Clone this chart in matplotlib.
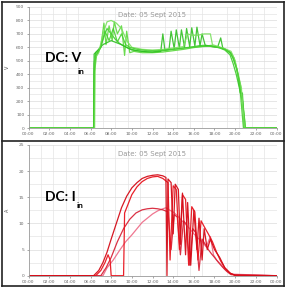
import matplotlib
matplotlib.use("Agg")
import matplotlib.pyplot as plt
from matplotlib.lines import Line2D
import numpy as np

# ---------------- data ----------------
x_ticks = [0, 2, 4, 6, 8, 10, 12, 14, 16, 18, 20, 22, 24]
x_tick_labels = ["00:00", "02:00", "04:00", "06:00", "08:00", "10:00", "12:00",
                 "14:00", "16:00", "18:00", "20:00", "22:00", "00:00"]
v_ticks = [0, 100, 200, 300, 400, 500, 600, 700, 800, 900]
i_ticks = [0, 5, 10, 15, 20, 25]
date_label = "Date: 05 Sept 2015"

# Voltage series (hours, volts)
g1_t = [0, 6.3, 6.35, 6.5, 6.8, 7.0, 7.3, 7.6, 8.0, 8.4, 8.8, 9.2, 9.6, 10.0, 10.5, 11.0,
        11.5, 12.0, 12.5, 13.0, 13.5, 14.0, 14.5, 15.0, 15.5, 16.0, 16.5, 17.0, 17.5, 18.0,
        18.5, 19.0, 19.5, 19.8, 20.1, 20.4, 20.7, 20.85, 21.0, 24]
g1_v = [0, 0, 480, 560, 580, 610, 680, 740, 700, 660, 630, 610, 595, 585, 575, 570,
        565, 565, 570, 575, 580, 585, 590, 595, 600, 605, 612, 615, 612, 605,
        595, 580, 545, 480, 400, 300, 200, 100, 0, 0]
g2_t = [0, 6.35, 6.4, 6.6, 7.0, 7.3, 7.5, 7.8, 8.1, 8.3, 8.6, 9.0, 9.3, 9.5, 9.8, 10.2,
        11.0, 12.0, 13.0, 14.0, 15.0, 16.0, 17.0, 17.7, 18.5, 19.0, 19.6, 19.9, 20.2, 20.5,
        20.8, 21.0, 24]
g2_v = [0, 0, 420, 550, 600, 780, 620, 760, 650, 790, 700, 760, 540, 720, 560, 570,
        560, 560, 565, 575, 585, 598, 608, 615, 600, 585, 560, 520, 430, 330,
        150, 0, 0]
g3_t = [0, 6.3, 6.35, 6.6, 7.2, 8.0, 9.0, 10.0, 11.0, 12.0, 12.8, 13.0, 13.2, 13.6, 13.8,
        14.1, 14.3, 14.6, 14.8, 15.1, 15.3, 15.6, 15.8, 16.1, 16.3, 16.6, 16.8, 17.1, 17.4,
        17.8, 18.3, 18.6, 18.8, 19.2, 19.6, 19.9, 20.2, 20.5, 20.7, 20.9, 24]
g3_v = [0, 0, 550, 570, 620, 650, 620, 580, 570, 565, 570, 700, 580, 585, 720, 590,
        730, 595, 730, 600, 740, 605, 745, 610, 750, 612, 700, 615, 612,
        605, 600, 670, 595, 580, 555, 500, 430, 260, 260, 0, 0]
g4_t = [0, 6.4, 6.45, 6.8, 7.2, 7.6, 8.0, 8.5, 9.0, 9.5, 10.0, 11.0, 12.0, 13.0, 14.0,
        15.0, 15.4, 15.8, 16.4, 17.0, 17.6, 17.8, 18.2, 19.0, 19.6, 20.0, 20.3, 20.6,
        20.9, 24]
g4_v = [0, 0, 520, 560, 700, 790, 800, 780, 740, 650, 600, 585, 580, 585, 595,
        605, 700, 690, 690, 700, 700, 620, 610, 590, 570, 500, 380, 300,
        0, 0]
g5_t = [0, 6.3, 6.35, 6.5, 6.7, 7.0, 7.4, 7.8, 8.2, 8.6, 9.0, 9.4, 9.8, 10.5, 11.5,
        12.5, 13.5, 14.5, 15.5, 16.5, 17.5, 18.5, 19.0, 19.5, 19.8, 20.1, 20.4, 20.8,
        24]
g5_v = [0, 0, 400, 540, 560, 600, 720, 650, 740, 640, 700, 620, 600, 585, 575,
        575, 582, 590, 598, 605, 608, 598, 585, 560, 520, 450, 350, 0,
        0]

# Current series (hours, amps)
r1_t = [0, 6.3, 6.8, 7.2, 7.6, 8.0, 8.5, 9.0, 9.5, 10.0, 10.5, 11.0, 11.5, 12.0, 12.5,
        13.0, 13.3, 13.4, 13.5, 13.8, 14.0, 14.2, 14.5, 14.7, 14.9, 15.2, 15.4, 15.7,
        16.0, 16.3, 16.5, 16.8, 17.0, 17.3, 17.6, 18.0, 18.5, 19.0, 19.5, 20.0, 24]
r1_v = [0, 0, 1.0, 2.5, 4.5, 7.0, 10.0, 13.0, 15.2, 16.8, 17.8, 18.6, 19.0, 19.2, 19.3,
        19.1, 18.8, 0, 18.5, 17.8, 8.0, 17.5, 16.5, 6.0, 15.8, 4.0, 14.0, 2.0,
        12.5, 5.0, 11.0, 3.0, 9.0, 5.0, 7.0, 5.0, 3.5, 1.5, 0.5, 0.1, 0]
r2_t = [0, 6.5, 7.0, 7.4, 7.7, 7.9, 8.0, 9.2, 9.3, 9.6, 10.0, 10.5, 11.0, 11.5, 12.0,
        12.5, 13.0, 13.5, 13.7, 14.0, 14.3, 14.6, 14.9, 15.2, 15.5, 15.8, 16.1, 16.4,
        16.7, 17.0, 17.4, 17.8, 18.2, 18.6, 19.0, 19.5, 20.0, 24]
r2_v = [0, 0, 1.0, 2.5, 4.0, 3.0, 0, 0, 12.0, 13.5, 15.5, 17.0, 18.0, 18.6, 18.9,
        19.0, 18.6, 17.8, 3.0, 17.2, 16.5, 5.0, 15.5, 14.6, 2.0, 13.2, 12.2, 3.0,
        10.5, 9.4, 8.0, 6.5, 4.5, 2.8, 1.5, 0.5, 0, 0]
r3_t = [0, 7.0, 7.5, 8.0, 8.6, 9.2, 9.8, 10.4, 11.0, 11.5, 12.0, 12.5, 13.0, 13.5, 13.8,
        14.1, 14.4, 14.7, 15.0, 15.3, 15.6, 15.9, 16.2, 16.5, 16.8, 17.1, 17.4, 17.7,
        18.0, 18.4, 18.8, 19.2, 19.6, 24]
r3_v = [0, 0, 1.5, 3.5, 6.5, 9.0, 10.8, 12.0, 12.6, 12.8, 12.9, 12.8, 12.6, 12.2, 5.0,
        11.7, 11.2, 4.0, 10.5, 9.8, 2.0, 9.0, 8.2, 1.0, 7.0, 6.0, 5.0, 4.2,
        3.5, 2.5, 1.6, 0.8, 0.2, 0]
r4_t = [0, 7.2, 7.6, 8.2, 8.8, 9.4, 10.0, 10.5, 11.0, 11.5, 12.0, 12.5, 13.0, 13.3,
        13.6, 14.0, 14.4, 14.8, 15.2, 15.6, 16.0, 16.4, 16.8, 17.2, 17.6, 17.9, 18.2,
        18.6, 19.0, 19.6, 24]
r4_v = [0, 0, 1.5, 3.0, 4.8, 6.5, 7.8, 9.0, 10.2, 11.0, 11.8, 12.4, 12.8, 13.0,
        12.6, 12.2, 11.5, 10.6, 9.8, 9.0, 8.0, 7.2, 6.5, 5.5, 7.5, 4.0, 3.0,
        2.2, 1.2, 0.3, 0]

green_series = [(g1_t, g1_v), (g2_t, g2_v), (g3_t, g3_v), (g4_t, g4_v), (g5_t, g5_v)]
green_colors = ["#3ccc2c", "#5ad83c", "#2fbf22", "#7be060", "#48d030"]
red_series = [(r4_t, r4_v), (r3_t, r3_v), (r2_t, r2_v), (r1_t, r1_v)]
red_colors = ["#ee6f8a", "#d8263a", "#e8141e", "#d40c18"]

# ---------------- figure ----------------
W, H = 286, 288
fig = plt.figure(figsize=(W / 100, H / 100), dpi=100)
fig.patch.set_facecolor("white")


def fx(px):
    return px / W


def fy(py):
    return 1 - py / H


def style_axes(ax, ymax, yticks, minor_step):
    ax.set_xlim(0, 24)
    ax.set_ylim(0, ymax)
    ax.set_xticks(x_ticks)
    ax.set_xticklabels(x_tick_labels)
    ax.set_yticks(yticks)
    ax.set_xticks(np.arange(0, 24.01, 1.2), minor=True)
    ax.set_yticks(np.arange(0, ymax + 0.01, minor_step), minor=True)
    ax.grid(True, which="minor", color="#e4e4e4", linewidth=0.5)
    ax.grid(True, which="major", axis="y", color="#dcdcdc", linewidth=0.5)
    ax.set_axisbelow(True)
    ax.tick_params(axis="both", which="major", labelsize=3.2, colors="#666666",
                   length=1.5, width=0.4, pad=1.5)
    ax.tick_params(axis="both", which="minor", length=0)
    for s in ["top", "right"]:
        ax.spines[s].set_visible(False)
    for s in ["left", "bottom"]:
        ax.spines[s].set_color("#999999")
        ax.spines[s].set_linewidth(0.6)


# top panel: voltage
ax1 = fig.add_axes([fx(28.5), fy(128), fx(276.5) - fx(28.5), fy(7) - fy(128)])
style_axes(ax1, 900, v_ticks, 50)
for (t, v), c in zip(green_series, green_colors):
    ax1.plot(t, v, color=c, linewidth=0.9, alpha=0.9)
ax1.set_ylabel("V", fontsize=3.5, color="#555555", labelpad=4)
ax1.text(0.5, 0.93, date_label, transform=ax1.transAxes, ha="center", va="center",
         fontsize=5, color="#9a9a9a")

# bottom panel: current
ax2 = fig.add_axes([fx(28.5), fy(275.7), fx(276.5) - fx(28.5), fy(145) - fy(275.7)])
style_axes(ax2, 25, i_ticks, 2.5)
for (t, v), c in zip(red_series, red_colors):
    ax2.plot(t, v, color=c, linewidth=0.9, alpha=0.95)
ax2.set_ylabel("A", fontsize=3.5, color="#555555", labelpad=6)
ax2.text(0.5, 0.93, date_label, transform=ax2.transAxes, ha="center", va="center",
         fontsize=5, color="#9a9a9a")

# big labels
big = dict(fontsize=10, fontweight="bold", ha="left", va="center", color="black",
           family=["Lato", "DejaVu Sans"])
small = dict(fontsize=6, fontweight="bold", ha="left", va="center", color="black",
             family=["Lato", "DejaVu Sans"])
fig.text(fx(45), fy(58), "DC: V", **big)
fig.text(fx(78), fy(71), "in", **small)
fig.text(fx(45), fy(197), "DC: I", **big)
fig.text(fx(77), fy(206), "in", **small)

# borders
lw = 1.2
for (x0, y0, x1, y1) in [(2, 2, 284, 2), (2, 286, 284, 286), (2, 2, 2, 286),
                         (284, 2, 284, 286), (2, 141, 284, 141)]:
    fig.add_artist(Line2D([fx(x0), fx(x1)], [fy(y0), fy(y1)], color="#222222",
                          linewidth=lw))

fig.savefig("out.png", dpi=100)
